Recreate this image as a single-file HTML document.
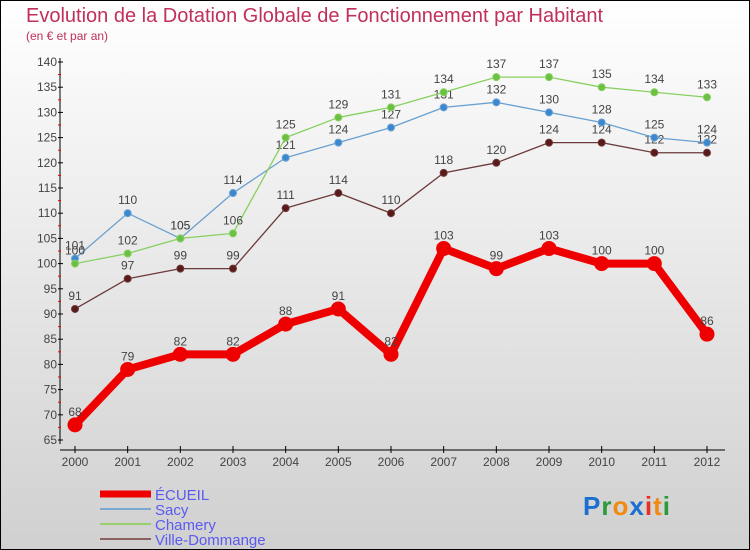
<!DOCTYPE html>
<html><head><meta charset="utf-8"><style>
body{margin:0;width:750px;height:550px;overflow:hidden}
svg{display:block;font-family:"Liberation Sans",sans-serif}
</style></head><body>
<svg id="c" width="750" height="550" xmlns="http://www.w3.org/2000/svg">
<defs><linearGradient id="bg" x1="0" y1="0" x2="0" y2="1"><stop offset="0" stop-color="#ffffff"/><stop offset="1" stop-color="#d0d0d0"/></linearGradient></defs>
<rect x="0.5" y="0.5" width="749" height="549" fill="url(#bg)" stroke="#000"/>
<text x="26" y="22" font-size="20" fill="#c0305a">Evolution de la Dotation Globale de Fonctionnement par Habitant</text>
<text x="26" y="40" font-size="12" fill="#c0305a">(en € et par an)</text>
<g id="axes"></g><g id="series"></g><g id="legend"></g>
<text x="583" y="515" font-size="26" font-weight="bold" letter-spacing="1"><tspan fill="#1a6fd0">P</tspan><tspan fill="#2a9a3a">r</tspan><tspan fill="#f08a10">o</tspan><tspan fill="#1a6fd0">x</tspan><tspan fill="#e83020">i</tspan><tspan fill="#f08a10">t</tspan><tspan fill="#2a9a3a">i</tspan></text>
</svg>
<script>
const years=["2000","2001","2002","2003","2004","2005","2006","2007","2008","2009","2010","2011","2012"];
const ecueil=[68,79,82,82,88,91,82,103,99,103,100,100,86];
const sacy=[101,110,105,114,121,124,127,131,132,130,128,125,124];
const chamery=[100,102,105,106,125,129,131,134,137,137,135,134,133];
const ville=[91,97,99,99,111,114,110,118,120,124,124,122,122];
const yTicks=[65,70,75,80,85,90,95,100,105,110,115,120,125,130,135,140];
const NS="http://www.w3.org/2000/svg";
const X=i=>75+i*(707-75)/12;
const Y=v=>440-(v-65)*(440-62)/75;
function mk(t,a,p){const e=document.createElementNS(NS,t);for(const k in a)e.setAttribute(k,a[k]);p.appendChild(e);return e;}
const ax=document.getElementById('axes');
let l=mk('line',{x1:60,y1:58,x2:60,y2:444,stroke:'#000'},ax);


l=mk('line',{x1:60,y1:450,x2:725,y2:450,stroke:'#000'},ax);


yTicks.forEach((v,i)=>{
 mk('line',{x1:58,x2:63,y1:Y(v),y2:Y(v),stroke:'#000'},ax);
 if(i<yTicks.length-1)mk('line',{x1:58,x2:61,y1:Y(v+2.5),y2:Y(v+2.5),stroke:'#e00'},ax);
 const t=mk('text',{x:57,y:Y(v)+4,'text-anchor':'end','font-size':12,fill:'#444'},ax);t.textContent=v;
 
 
});
years.forEach((y,i)=>{
 mk('line',{x1:X(i),x2:X(i),y1:446,y2:453,stroke:'#000'},ax);
 const t=mk('text',{x:X(i),y:466,'text-anchor':'middle','font-size':12,fill:'#444'},ax);t.textContent=y;
 
 
});
const S=document.getElementById('series');
function draw(data,color,dot,w,r,name){
 const g=mk('g',{},S);
 
 
 mk('polyline',{points:data.map((v,i)=>X(i)+','+Y(v)).join(' '),fill:'none',stroke:color,'stroke-width':w,'stroke-linejoin':'round'},g);
 data.forEach((v,i)=>{
  const c=mk('circle',{cx:X(i),cy:Y(v),r:r,fill:dot,stroke:color,'stroke-width':1},g);
  
  
  const t=mk('text',{x:X(i),y:Y(v)-9,'text-anchor':'middle','font-size':12,fill:'#444'},g);t.textContent=v;
  
  
 });
}
draw(ville,'#6b3a3a','#5a1a1a',1.3,3.5,'ville-dommange');
draw(sacy,'#6aa0d0','#3a88d0',1.3,3.5,'sacy');
draw(chamery,'#88d060','#6ac040',1.3,3.5,'chamery');
draw(ecueil,'#ee0000','#ee0000',8,7,'ecueil');
const L=document.getElementById('legend');
[['ÉCUEIL','#ee0000',7],['Sacy','#7aa8d0',2],['Chamery','#98d070',2],['Ville-Dommange','#8a6060',2]].forEach((e,i)=>{
 const y=494+i*15;
 const g=mk('g',{},L);
 
 
 mk('line',{x1:100,x2:151,y1:y,y2:y,stroke:e[1],'stroke-width':e[2]},g);
 const t=mk('text',{x:155,y:y+6,'font-size':15,fill:'#5a5af0'},g);t.textContent=e[0];
});
</script>
</body></html>
